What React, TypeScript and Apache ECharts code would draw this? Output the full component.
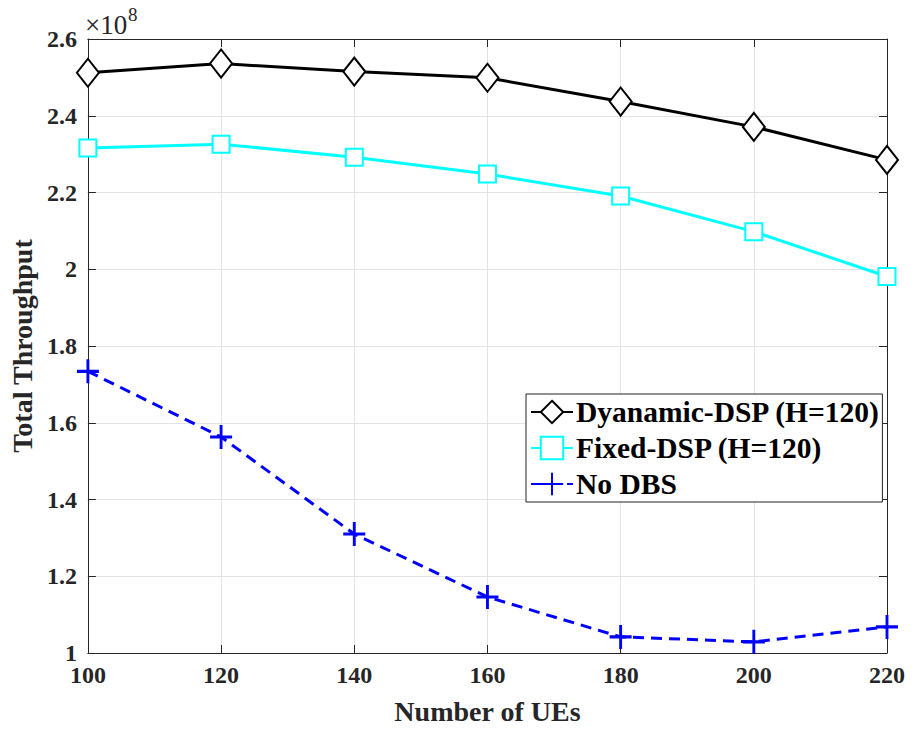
import React, { useEffect, useRef } from "react";
import * as echarts from "echarts";

const ues = [100, 120, 140, 160, 180, 200, 220];
const dynamicDSP = [2.512, 2.536, 2.515, 2.499, 2.437, 2.371, 2.285];
const fixedDSP = [2.316, 2.326, 2.292, 2.248, 2.191, 2.098, 1.981];
const noDBS = [1.734, 1.563, 1.31, 1.146, 1.042, 1.029, 1.068];
const seriesNames = ["Dyanamic-DSP (H=120)", "Fixed-DSP (H=120)", "No DBS"];

const FONT = "'Liberation Serif', 'Times New Roman', serif";
const AX = "#262626";

export default function App() {
  const ref = useRef<HTMLDivElement>(null);
  useEffect(() => {
    const chart = echarts.init(ref.current!, null, { renderer: "svg" });
    const pair = (arr: number[]) => ues.map((u, i) => [u, arr[i]]);
    const tickLabel = {
      color: AX,
      fontFamily: FONT,
      fontWeight: "bold" as const,
      fontSize: 24,
    };
    chart.setOption({
      animation: false,
      backgroundColor: "#fff",
      grid: { left: 84, top: 39, right: 25, bottom: 72, containLabel: false },
      xAxis: [
        {
          type: "value",
          min: 100,
          max: 220,
          interval: 20,
          name: "Number of UEs",
          nameLocation: "middle",
          nameGap: 44,
          nameTextStyle: { ...tickLabel, fontSize: 28 },
          axisLine: { show: true, lineStyle: { color: AX, width: 1 } },
          axisTick: { show: true, inside: true, length: 8, lineStyle: { color: AX } },
          axisLabel: { ...tickLabel, margin: 13, lineHeight: 18 },
          splitLine: { show: true, lineStyle: { color: "#e3e3e3", width: 1 } },
        },
        {
          type: "value",
          position: "top",
          min: 100,
          max: 220,
          interval: 20,
          axisLine: { show: true, lineStyle: { color: AX, width: 1 } },
          axisTick: { show: true, inside: true, length: 8, lineStyle: { color: AX } },
          axisLabel: { show: false },
          splitLine: { show: false },
        },
      ],
      yAxis: [
        {
          type: "value",
          min: 1,
          max: 2.6,
          interval: 0.2,
          name: "Total Throughput",
          nameLocation: "middle",
          nameGap: 48,
          nameTextStyle: { ...tickLabel, fontSize: 28 },
          axisLine: { show: true, lineStyle: { color: AX, width: 1 } },
          axisTick: { show: true, inside: true, length: 8, lineStyle: { color: AX } },
          axisLabel: {
            ...tickLabel,
            margin: 11,
            lineHeight: 18,
            formatter: (v: number) => String(Math.round(v * 10) / 10),
          },
          splitLine: { show: true, lineStyle: { color: "#e3e3e3", width: 1 } },
        },
        {
          type: "value",
          position: "right",
          min: 1,
          max: 2.6,
          interval: 0.2,
          axisLine: { show: true, lineStyle: { color: AX, width: 1 } },
          axisTick: { show: true, inside: true, length: 8, lineStyle: { color: AX } },
          axisLabel: { show: false },
          splitLine: { show: false },
        },
      ],
      legend: {
        orient: "vertical",
        left: 526,
        top: 394,
        width: 357,
        backgroundColor: "#fff",
        borderColor: "#222",
        borderWidth: 1,
        borderRadius: 0,
        padding: [2, 2, 2, 4],
        itemGap: 4,
        itemWidth: 42,
        itemHeight: 28,
        textStyle: {
          color: "#000",
          fontFamily: FONT,
          fontWeight: "bold",
          fontSize: 29.5,
          lineHeight: 32,
          padding: [0, 0, 0, -2],
        },
        data: seriesNames,
      },
      graphic: [
        {
          type: "text",
          left: 85,
          top: 11,
          style: { text: "×10", fontFamily: FONT, fontSize: 27, fill: AX },
        },
        {
          type: "text",
          left: 128,
          top: 5,
          style: { text: "8", fontFamily: FONT, fontSize: 19, fill: AX },
        },
      ],
      series: [
        {
          name: seriesNames[0],
          type: "line",
          data: pair(dynamicDSP),
          symbol: "emptyDiamond",
          symbolSize: [22, 28],
          lineStyle: { color: "#000", width: 3 },
          itemStyle: { color: "#000", borderColor: "#000", borderWidth: 3 },
          z: 3,
        },
        {
          name: seriesNames[1],
          type: "line",
          data: pair(fixedDSP),
          symbol: "emptyRect",
          symbolSize: 17,
          lineStyle: { color: "#00ffff", width: 3 },
          itemStyle: { color: "#00ffff", borderColor: "#00ffff", borderWidth: 2.5 },
          z: 3,
        },
        {
          name: seriesNames[2],
          type: "line",
          data: pair(noDBS),
          symbol: "path://M10,0 L10,20 M0,10 L20,10",
          symbolSize: [22, 24],
          lineStyle: { color: "#0000ff", width: 3, type: [11, 7] },
          itemStyle: { color: "none", borderColor: "#0000ff", borderWidth: 3 },
          z: 3,
        },
      ],
    });
    return () => chart.dispose();
  }, []);
  return (
    <div
      ref={ref}
      style={{ position: "fixed", left: 0, top: 0, width: 912, height: 730 }}
    />
  );
}
